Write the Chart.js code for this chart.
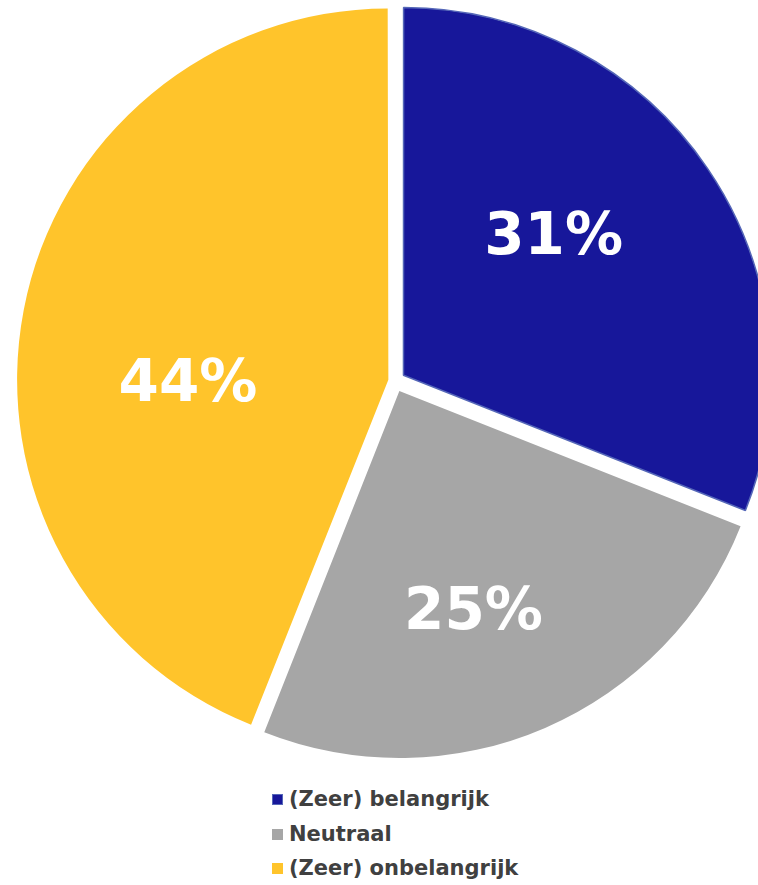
<!DOCTYPE html>
<html>
<head>
<meta charset="utf-8">
<script src="https://cdn.jsdelivr.net/npm/chart.js@4"></script>
<style>
  body { margin: 0; background: #fff; }
  #wrap { position: relative; width: 758px; height: 762px; }
  #legend { list-style: none; margin: 0; padding: 0; position: absolute; left: 272px; top: 784px;
    font-family: "DejaVu Sans", Verdana, sans-serif; font-weight: bold; font-size: 21px; color: #404040; }
  #legend li { height: 34.5px; line-height: 30px; white-space: nowrap; }
  #legend span { display: inline-block; width: 11px; height: 11px; margin-right: 6px; box-sizing: border-box; vertical-align: 1px; }
</style>
</head>
<body>
<div id="wrap"><canvas id="myChart"></canvas></div>
<ul id="legend"></ul>
<script>
var labels = ["(Zeer) belangrijk", "Neutraal", "(Zeer) onbelangrijk"];
var values = [31, 25, 44];
var colors = ["#17179A", "#A6A6A6", "#FFC42B"];
var borders = ["#5567B8", "#ffffff", "#ffffff"];

// labels drawn inside each slice, nudged like the excel "best fit" ones
var sliceLabels = {
  id: 'sliceLabels',
  afterDatasetsDraw: function(chart, args, opts){
    var ctx = chart.ctx;
    var meta = chart.getDatasetMeta(0);
    ctx.save();
    ctx.fillStyle = '#fff';
    ctx.font = 'bold 58px "DejaVu Sans", Verdana, sans-serif';
    ctx.textAlign = 'center';
    ctx.textBaseline = 'middle';
    meta.data.forEach(function(arc, i){
      var p = arc.getProps(['x', 'y', 'startAngle', 'endAngle', 'outerRadius', 'circumference'], true);
      var mid = (p.startAngle + p.endAngle) / 2;
      // same shift as ArcElement.draw uses for offset
      var o = (arc.options.offset || 0) / 4;
      o = o + o * (1 - Math.sin(Math.min(Math.PI, p.circumference)));
      var vx = p.x + Math.cos(mid) * o;
      var vy = p.y + Math.sin(mid) * o;
      var a = mid + opts.shift[i] * Math.PI / 180;
      var r = p.outerRadius * opts.frac[i];
      ctx.fillText(values[i] + '%', vx + Math.cos(a) * r, vy + Math.sin(a) * r);
    });
    ctx.restore();
  }
};

var ctx = document.getElementById('myChart').getContext('2d');
var chart = new Chart(ctx, {
  type: 'pie',
  data: {
    labels: labels,
    datasets: [{
      data: values,
      backgroundColor: colors,
      borderColor: borders,
      borderWidth: [1.5, 0, 0],
      offset: [41, 44, 27],
      hoverOffset: 0
    }]
  },
  options: {
    responsive: true,
    maintainAspectRatio: false,
    animation: false,
    radius: 367,
    layout: { padding: { left: 32, top: 0 } },
    plugins: {
      legend: { display: false },
      tooltip: { enabled: false },
      sliceLabels: { shift: [-8, 5, -12.7], frac: [0.55, 0.64, 0.535] }
    }
  },
  plugins: [sliceLabels]
});

var ul = document.getElementById('legend');
labels.forEach(function(l, i){
  var li = document.createElement('li');
  var sw = document.createElement('span');
  sw.style.background = colors[i];
  if (i == 0) sw.style.border = '1px solid ' + borders[0];
  li.appendChild(sw);
  li.appendChild(document.createTextNode(l));
  ul.appendChild(li);
});
</script>
</body>
</html>
